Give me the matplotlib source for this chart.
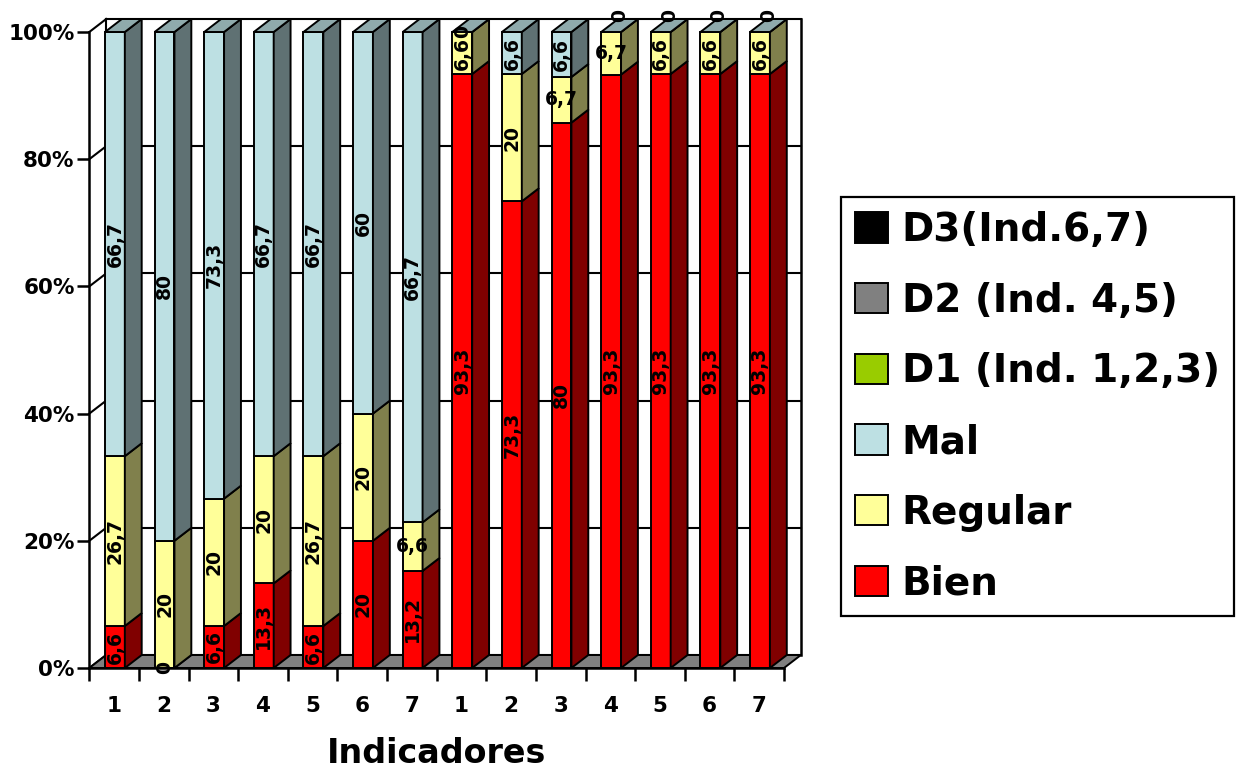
import matplotlib
matplotlib.use('Agg')
import matplotlib.pyplot as plt
from matplotlib.patches import Polygon, Patch
import numpy as np

plt.rcParams['font.family'] = 'DejaVu Sans'
plt.rcParams['font.weight'] = 'bold'

# data: two blocks of indicators 1..7, values in %
indicadores = ['1', '2', '3', '4', '5', '6', '7', '1', '2', '3', '4', '5', '6', '7']
bien    = [6.6, 0, 6.6, 13.3, 6.6, 20, 13.2, 93.3, 73.3, 80, 93.3, 93.3, 93.3, 93.3]
regular = [26.7, 20, 20, 20, 26.7, 20, 6.6, 6.6, 20, 6.7, 6.7, 6.6, 6.6, 6.6]
mal     = [66.7, 80, 73.3, 66.7, 66.7, 60, 66.7, 0, 6.6, 6.6, 0, 0, 0, 0]
legend_names = ['D3(Ind.6,7)', 'D2 (Ind. 4,5)', 'D1 (Ind. 1,2,3)', 'Mal', 'Regular', 'Bien']
yticks = [0, 20, 40, 60, 80, 100]

FRONT = {'Bien': '#FF0000', 'Regular': '#FFFF99', 'Mal': '#BDE0E3'}
SIDE = {'Bien': '#800000', 'Regular': '#80804C', 'Mal': '#5F7173'}
TOP = '#8FAAAC'
FLOOR = '#808080'
LEG_COLORS = ['#000000', '#808080', '#99CC00', FRONT['Mal'], FRONT['Regular'], FRONT['Bien']]

# fake 3d geometry (data units)
DX, DY = 0.34, 2.04
W, OFF = 0.40, -0.184
LW = 1.4
flat_labels = {(6, 'Regular'), (9, 'Regular'), (10, 'Regular')}
raised_zero = {10, 11, 12, 13}

fig = plt.figure(figsize=(12.42, 7.75), dpi=100)
fig.patch.set_facecolor('white')
ax = fig.add_axes([89.3 / 1242, 107 / 775, 694.7 / 1242, 636 / 775])
ax.set_xlim(-0.5, 13.5)
ax.set_ylim(0, 100)
ax.set_facecolor('none')

# walls + gridlines
xb0, xb1 = -0.5 + DX, 13.5 + DX
for t in yticks:
    ax.plot([xb0, xb1], [t + DY, t + DY], color='black', lw=1.5, zorder=1, clip_on=False)
    ax.plot([-0.5, xb0], [t, t + DY], color='black', lw=1.5, zorder=1, clip_on=False)
ax.plot([xb0, xb0], [DY, 100 + DY], color='black', lw=1.5, zorder=1, clip_on=False)
ax.plot([xb1, xb1], [DY, 100 + DY], color='black', lw=1.8, zorder=1, clip_on=False)
ax.add_patch(Polygon([(-0.5, 0), (13.5, 0), (xb1, DY), (xb0, DY)], closed=True,
                     facecolor=FLOOR, edgecolor='black', lw=LW, zorder=2, clip_on=False))

# stacked bars, normalised to 100%
x = np.arange(len(indicadores))
series = [('Bien', np.array(bien)), ('Regular', np.array(regular)), ('Mal', np.array(mal))]
totals = np.array(bien) + np.array(regular) + np.array(mal)
bottom = np.zeros(len(x))
xl = x + OFF
xr = xl + W
labels = []
for name, vals in series:
    h = vals / totals * 100
    ax.bar(xl + W / 2, h, W, bottom=bottom, color=FRONT[name], edgecolor='black',
           lw=LW, zorder=4, clip_on=False)
    for i in range(len(x)):
        b0, b1 = bottom[i], bottom[i] + h[i]
        ax.add_patch(Polygon([(xr[i], b0), (xr[i] + DX, b0 + DY), (xr[i] + DX, b1 + DY), (xr[i], b1)],
                             closed=True, facecolor=SIDE[name], edgecolor='black', lw=LW,
                             zorder=4, clip_on=False))
        txt = f'{vals[i]:g}'.replace('.', ',')
        cx, cy = xl[i] + W / 2, b0 + h[i] / 2
        if name == 'Mal' and vals[i] == 0 and i in raised_zero:
            cx, cy = cx + DX / 2, 100 + DY * 1.25
        rot = 0 if (i, name) in flat_labels else 90
        labels.append((cx, cy, txt, rot))
    bottom += h

for i in range(len(x)):
    ax.add_patch(Polygon([(xl[i], 100), (xl[i] + DX, 100 + DY), (xr[i] + DX, 100 + DY), (xr[i], 100)],
                         closed=True, facecolor=TOP, edgecolor='black', lw=LW,
                         zorder=4, clip_on=False))

for cx, cy, txt, rot in labels:
    ax.text(cx, cy, txt, rotation=rot, ha='center', va='center', fontsize=13.5,
            fontweight='bold', color='black', zorder=6, clip_on=False)

# axes
for s in ['top', 'right']:
    ax.spines[s].set_visible(False)
for s in ['left', 'bottom']:
    ax.spines[s].set_linewidth(1.8)
    ax.spines[s].set_zorder(5)
ax.set_yticks(yticks, [f'{t}%' for t in yticks])
ax.tick_params(axis='y', direction='out', length=8.6, width=1.8, pad=2, labelsize=15.5)
ax.set_xticks(x, indicadores)
ax.set_xticks(np.arange(-0.5, 14, 1), minor=True)
ax.tick_params(axis='x', which='major', length=0, pad=20, labelsize=15.5)
ax.tick_params(axis='x', which='minor', direction='out', length=9.4, width=1.8)
ax.set_xlabel('Indicadores', fontsize=24, fontweight='bold', labelpad=15)

handles = [Patch(facecolor=c, edgecolor='black', lw=1.4) for c in LEG_COLORS]
leg = fig.legend(handles, legend_names, loc='upper left', bbox_to_anchor=(841 / 1242, 1 - 197 / 775),
                 fontsize=28, frameon=True, fancybox=False, edgecolor='black', framealpha=1,
                 handlelength=0.85, handleheight=0.82, handletextpad=0.35,
                 labelspacing=0.84, borderpad=0.36, borderaxespad=0)
leg.get_frame().set_linewidth(1.6)
for t in leg.get_texts():
    t.set_fontweight('bold')

plt.savefig('out.png', dpi=100, facecolor='white')
plt.close()
